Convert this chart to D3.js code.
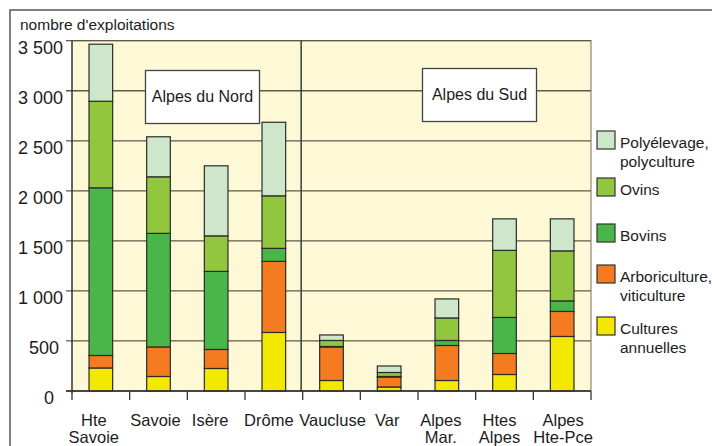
<!DOCTYPE html>
<html>
<head>
<meta charset="utf-8">
<script src="https://cdn.jsdelivr.net/npm/d3@7"></script>
<style>
body { margin: 0; background: #fff; }
text { font-family: "Liberation Sans", Arial, sans-serif; fill: #1c1c1c; }
</style>
</head>
<body>
<svg width="712" height="446"></svg>
<script>
// departements, left to right
const departements = ["Hte Savoie", "Savoie", "Isère", "Drôme", "Vaucluse", "Var", "Alpes Mar.", "Htes Alpes", "Alpes Hte-Pce"];
const xLabels = [["Hte", "Savoie"], ["Savoie"], ["Isère"], ["Drôme"], ["Vaucluse"], ["Var"], ["Alpes", "Mar."], ["Htes", "Alpes"], ["Alpes", "Hte-Pce"]];
// labels are not quite centred under their bars in the original
const labelNudge = [-7, -3, -6, -5, 1, -2, -6, -5, 1];

// number of farms per type (bottom to top of each bar)
const cultures     = [230, 145, 225, 585, 105, 40, 105, 165, 545];
const arboriculture = [125, 295, 190, 710, 335, 100, 350, 210, 250];
const bovins       = [1675, 1135, 780, 130, 5, 5, 50, 360, 105];
const ovins        = [865, 565, 355, 525, 60, 40, 225, 670, 500];
const polyelevage  = [570, 400, 700, 735, 55, 65, 190, 315, 320];

const yTicks = [0, 500, 1000, 1500, 2000, 2500, 3000, 3500];

const seriesKeys = ["cultures", "arbo", "bovins", "ovins", "poly"];
const seriesColors = { cultures: "#f3e800", arbo: "#f47b20", bovins: "#4ab649", ovins: "#93c63f", poly: "#cee6ca" };
const legendItems = [
    { key: "poly", lines: ["Polyélevage,", "polyculture"] },
    { key: "ovins", lines: ["Ovins"] },
    { key: "bovins", lines: ["Bovins"] },
    { key: "arbo", lines: ["Arboriculture,", "viticulture"] },
    { key: "cultures", lines: ["Cultures", "annuelles"] }
];
const legendTops = [131, 178, 224, 265, 317];

const table = departements.map((d, i) => ({
    dep: d,
    cultures: cultures[i],
    arbo: arboriculture[i],
    bovins: bovins[i],
    ovins: ovins[i],
    poly: polyelevage[i]
}));

const svg = d3.select("svg");

const plot = { left: 72, right: 591, top: 40.7, bottom: 391 };

const x = d3.scaleBand()
    .domain(departements)
    .range([plot.left, plot.right])
    .paddingInner(0.59)
    .paddingOuter(0.295);

const y = d3.scaleLinear()
    .domain([0, 3500])
    .range([plot.bottom, plot.top]);

// outer frame
svg.append("path")
    .attr("d", "M10,446V10H712")
    .attr("fill", "none")
    .attr("stroke", "#555")
    .attr("stroke-width", 1.5);

// plot background
svg.append("rect")
    .attr("x", plot.left)
    .attr("y", plot.top)
    .attr("width", plot.right - plot.left)
    .attr("height", plot.bottom - plot.top)
    .attr("fill", "#fdf8d5");

svg.append("path")
    .attr("d", `M${plot.left},${plot.top}H${plot.right}V${plot.bottom}`)
    .attr("fill", "none")
    .attr("stroke", "#8a877a")
    .attr("stroke-width", 1.2);

// gridlines with ticks
svg.append("g")
    .selectAll("line")
    .data(yTicks)
    .enter().append("line")
    .attr("x1", plot.left - 6)
    .attr("x2", plot.right)
    .attr("y1", d => y(d))
    .attr("y2", d => y(d))
    .attr("stroke", "#5e5a4a")
    .attr("stroke-width", 1.3);

// y tick labels (top of digits sits on the tick)
svg.append("g")
    .selectAll("text")
    .data(yTicks)
    .enter().append("text")
    .attr("x", 63)
    .attr("dx", d => d === 0 ? -9 : d === 500 ? -4 : 0)
    .attr("y", d => y(d) + 13)
    .attr("text-anchor", "end")
    .attr("font-size", "18px")
    .text(d => d3.format(",")(d).replace(",", " "));

svg.append("text")
    .attr("x", 20)
    .attr("y", 30)
    .attr("font-size", "15.5px")
    .text("nombre d'exploitations");

// separator between north and south
const sepX = x("Vaucluse") - (x.step() - x.bandwidth()) / 2 - 1.5;
svg.append("line")
    .attr("x1", sepX).attr("x2", sepX)
    .attr("y1", plot.top).attr("y2", plot.bottom)
    .attr("stroke", "#3a3a3a")
    .attr("stroke-width", 1.5);

// stacked bars
const stack = d3.stack().keys(seriesKeys);
const layers = stack(table);

svg.append("g")
    .selectAll("g")
    .data(layers)
    .enter().append("g")
    .attr("fill", d => seriesColors[d.key])
    .selectAll("rect")
    .data(d => d)
    .enter().append("rect")
    .attr("x", d => x(d.data.dep))
    .attr("y", d => y(d[1]))
    .attr("width", x.bandwidth())
    .attr("height", d => y(d[0]) - y(d[1]))
    .attr("stroke", "#2b2b2b")
    .attr("stroke-width", 1.2);

// axes lines
svg.append("line")
    .attr("x1", plot.left).attr("x2", plot.left)
    .attr("y1", plot.top).attr("y2", plot.bottom + 2)
    .attr("stroke", "#333")
    .attr("stroke-width", 1.5);

svg.append("line")
    .attr("x1", plot.left - 6).attr("x2", plot.right)
    .attr("y1", plot.bottom).attr("y2", plot.bottom)
    .attr("stroke", "#333")
    .attr("stroke-width", 1.5);

// x ticks at category boundaries
const boundaries = d3.range(departements.length + 1).map(i => plot.left + i * x.step());
svg.append("g")
    .selectAll("line")
    .data(boundaries)
    .enter().append("line")
    .attr("x1", d => d).attr("x2", d => d)
    .attr("y1", plot.bottom).attr("y2", plot.bottom + 9)
    .attr("stroke", "#333")
    .attr("stroke-width", 1.3);

// x labels
const xl = svg.append("g")
    .selectAll("text")
    .data(departements)
    .enter().append("text")
    .attr("text-anchor", "middle")
    .attr("font-size", "16.5px");

xl.selectAll("tspan")
    .data((d, i) => xLabels[i].map(t => ({ t, dep: d, nudge: labelNudge[i] })))
    .enter().append("tspan")
    .attr("x", d => x(d.dep) + x.bandwidth() / 2 + d.nudge)
    .attr("y", (d, j) => 426 + j * 17)
    .text(d => d.t);

// region boxes
const regions = [
    { label: "Alpes du Nord", from: "Savoie", to: "Drôme" },
    { label: "Alpes du Sud", from: "Alpes Mar.", to: "Htes Alpes" }
];
const regionBoxes = [
    { x0: 145.5, x1: 259.5, y0: 70.5, y1: 123.5 },
    { x0: 422.5, x1: 536.5, y0: 68.5, y1: 121.5 }
];
regions.forEach((r, i) => {
    const b = regionBoxes[i];
    svg.append("rect")
        .attr("x", b.x0).attr("y", b.y0)
        .attr("width", b.x1 - b.x0).attr("height", b.y1 - b.y0)
        .attr("fill", "#fff")
        .attr("stroke", "#444")
        .attr("stroke-width", 1.3);
    svg.append("text")
        .attr("x", (b.x0 + b.x1) / 2)
        .attr("y", b.y0 + 31)
        .attr("text-anchor", "middle")
        .attr("font-size", "16px")
        .text(r.label);
});

// legend
const legend = svg.append("g")
    .selectAll("g")
    .data(legendItems)
    .enter().append("g")
    .attr("transform", (d, i) => `translate(597,${legendTops[i]})`);

legend.append("rect")
    .attr("width", 18)
    .attr("height", 18)
    .attr("fill", d => seriesColors[d.key])
    .attr("stroke", "#333")
    .attr("stroke-width", 1.2);

legend.append("text")
    .attr("font-size", "15.5px")
    .selectAll("tspan")
    .data(d => d.lines)
    .enter().append("tspan")
    .attr("x", 23)
    .attr("y", (d, j) => 17 + j * 19)
    .text(d => d);
</script>
</body>
</html>
